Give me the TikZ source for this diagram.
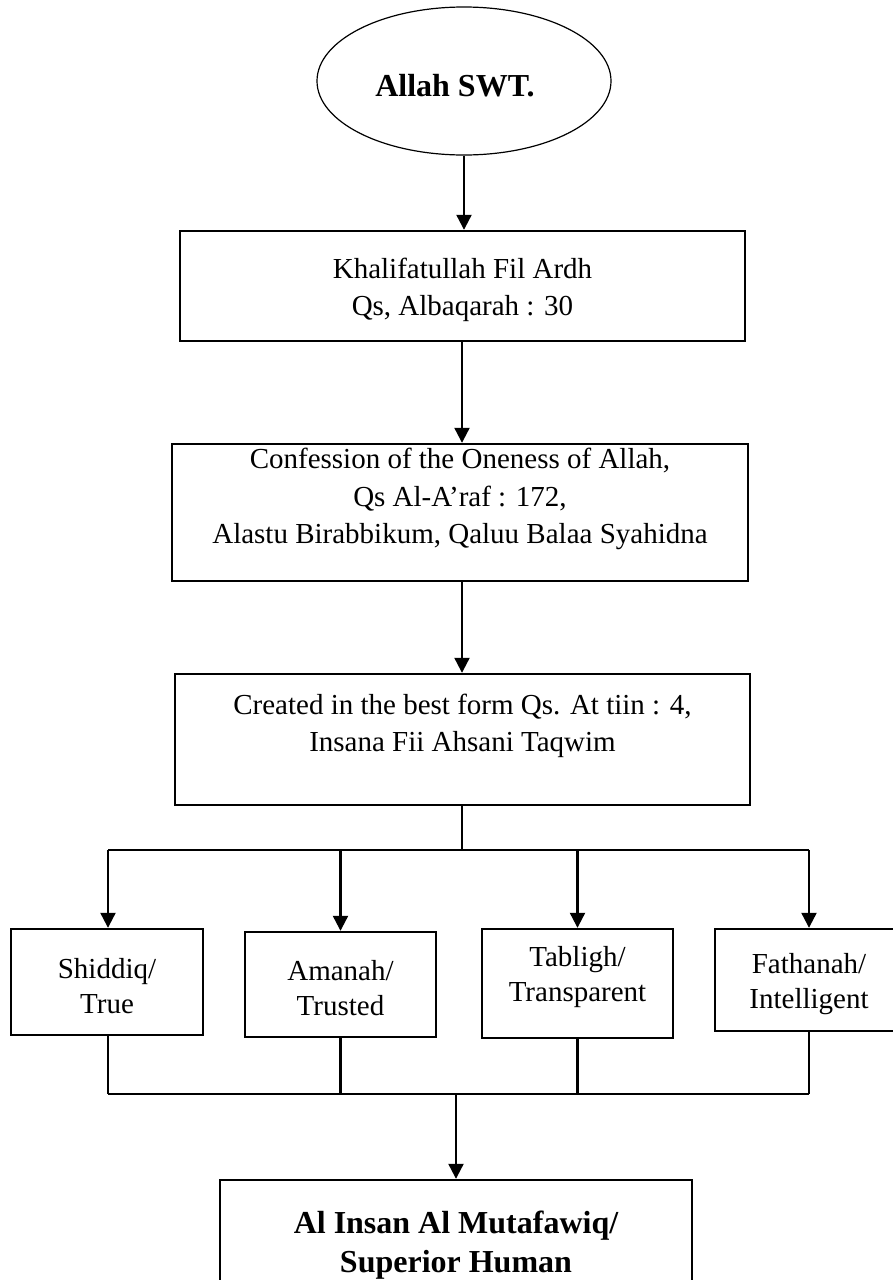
\documentclass[tikz,border=0pt]{standalone}
\usepackage{fontspec}
\setmainfont{Liberation Serif}
\usetikzlibrary{arrows.meta,shapes.geometric}
\begin{document}
\begin{tikzpicture}[x=1pt,y=-1pt,
  boxn/.style={draw,line width=2.4pt,inner sep=0pt,anchor=center},
  txt/.style={align=center,inner sep=0pt,font=\fontsize{29}{37.5}\selectfont},
  stxt/.style={align=center,inner sep=0pt,font=\fontsize{29}{35}\selectfont},
  btxt/.style={align=center,inner sep=0pt,font=\fontsize{32}{39.5}\selectfont\bfseries},
  arr/.style={line width=2.2pt,-{Triangle[length=15pt,width=15pt]}},
  ln/.style={line width=2.2pt}]
\useasboundingbox (0,0) rectangle (893,1280);
% top ellipse
\node[draw,ellipse,line width=1.2pt,minimum width=294pt,minimum height=148pt,inner sep=0pt] (god) at (464,81) {};
\node[btxt] (godt) at (455,86) {Allah SWT.};
% boxes
\node[boxn,minimum width=565pt,minimum height=110pt] (k) at (462.5,286) {};
\node[txt] (kt) at (462.5,290) {Khalifatullah Fil Ardh\\Qs, Albaqarah : 30};
\node[boxn,minimum width=576pt,minimum height=137pt] (c) at (460,512.5) {};
\node[txt] (ct) at (460,499) {Confession of the Oneness of Allah,\\Qs Al-A’raf : 172,\\Alastu Birabbikum, Qaluu Balaa Syahidna};
\node[boxn,minimum width=575pt,minimum height=131pt] (cr) at (462.5,739.5) {};
\node[txt] (crt) at (462.5,726) {Created in the best form Qs. At tiin : 4,\\Insana Fii Ahsani Taqwim};
% four boxes
\node[boxn,minimum width=192pt,minimum height=106pt] (s1) at (107,982) {};
\node[stxt] (s1t) at (107,986) {Shiddiq/\\True};
\node[boxn,minimum width=191pt,minimum height=105pt] (s2) at (340.5,984.5) {};
\node[stxt] (s2t) at (340.5,988) {Amanah/\\Trusted};
\node[boxn,minimum width=191pt,minimum height=109pt] (s3) at (577.5,983.5) {};
\node[stxt] (s3t) at (577.5,977) {Tabligh/\\Transparent};
\node[boxn,minimum width=188pt,minimum height=102pt] (s4) at (809,980) {};
\node[stxt] (s4t) at (809,984) {Fathanah/\\Intelligent};
% final
\node[boxn,minimum width=472.5pt,minimum height=120pt] (fin) at (456,1240) {};
\node[btxt] (fint) at (456,1245) {Al Insan Al Mutafawiq/\\Superior Human};
% coordinates
\coordinate (top) at (462,850);
\coordinate (tl) at (108,850);
\coordinate (tr) at (809,850);
\coordinate (bot) at (456,1094);
\coordinate (bl) at (108,1094);
\coordinate (br) at (809,1094);
% connectors
\draw[arr] (god.south) -- (god.south |- k.north);
\draw[arr] (k.south -| top) -- (c.north -| top);
\draw[arr] (c.south -| top) -- (cr.north -| top);
\draw[ln] (cr.south -| top) -- (top);
\draw[ln] (tl) -- (tr);
\draw[arr] (tl) -- (s1.north -| tl);
\draw[arr] (s2.north |- tl) -- (s2.north);
\draw[arr] (s3.north |- tl) -- (s3.north);
\draw[arr] (tr) -- (s4.north -| tr);
\draw[ln] (s1.south -| bl) -- (bl);
\draw[ln] (s2.south) -- (s2.south |- bl);
\draw[ln] (s3.south) -- (s3.south |- bl);
\draw[ln] (s4.south -| br) -- (br);
\draw[ln] (bl) -- (br);
\draw[arr] (bot) -- (fin.north);
\end{tikzpicture}
\end{document}
